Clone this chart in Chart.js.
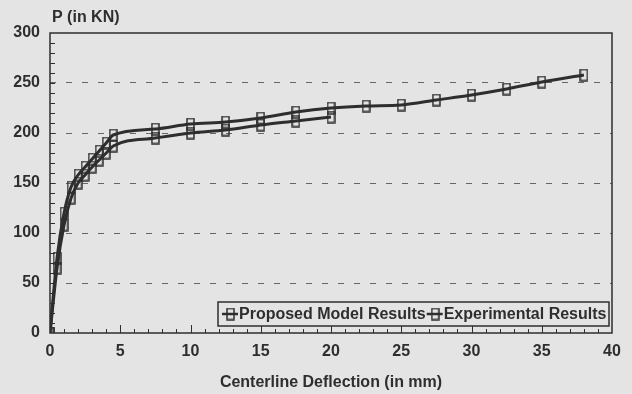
<!DOCTYPE html>
<html>
<head>
<meta charset="utf-8">
<script src="https://cdn.jsdelivr.net/npm/chart.js@4"></script>
<style>
  html, body { margin: 0; padding: 0; background: #e4e4e4; }
  #wrap { width: 632px; height: 394px; }
</style>
</head>
<body>
<div id="wrap"><canvas id="loadChart" width="632" height="394"></canvas></div>
<script>
// * data
const seriesLabels = ["Proposed Model Results", "Experimental Results"];

const deflectionModel = [0, 0.5, 1, 1.5, 2, 2.5, 3, 3.5, 4, 4.5, 7.5, 10, 12.5, 15, 17.5, 20, 22.5, 25, 27.5, 30, 32.5, 35, 38];
const loadModel = [0, 75, 120, 146, 158, 166, 174, 182, 190, 198, 204, 209, 211, 215, 221, 225, 227, 228, 233, 238, 244, 251, 258];

const deflectionExp = [0, 0.5, 1, 1.5, 2, 2.5, 3, 3.5, 4, 4.5, 7.5, 10, 12.5, 15, 17.5, 20];
const loadExp = [0, 65, 108, 135, 150, 158, 166, 173, 180, 187, 195, 200, 203, 208, 212, 216];

const xTicks = [0, 5, 10, 15, 20, 25, 30, 35, 40];
const yTicks = [0, 50, 100, 150, 200, 250, 300];

const xTitle = "Centerline Deflection (in mm)";
const yTitle = "P (in KN)";

const ink = "#2e2e2e";
const fontFamily = '"Liberation Sans", Arial, sans-serif';

// tall hollow box marker like the excel one
function makeMarker() {
  const c = document.createElement("canvas");
  c.width = 9;
  c.height = 13;
  const g = c.getContext("2d");
  g.strokeStyle = ink;
  g.lineWidth = 1.5;
  g.strokeRect(1, 1, 7, 11);
  return c;
}
const marker = makeMarker();

const toPoints = (xs, ys) => xs.map((x, i) => ({ x: x, y: ys[i] }));

// * frame, minor ticks, y title, legend box
const decorations = {
  id: "decorations",
  beforeDatasetsDraw(chart) {
    const { ctx, chartArea: a, scales } = chart;
    ctx.save();
    ctx.strokeStyle = ink;
    ctx.lineWidth = 1.5;
    ctx.strokeRect(a.left, a.top, a.right - a.left, a.bottom - a.top);

    ctx.lineWidth = 1;
    ctx.beginPath();
    for (let v = 10; v < 300; v += 10) {
      const py = Math.round(scales.y.getPixelForValue(v)) + 0.5;
      ctx.moveTo(a.left, py);
      ctx.lineTo(a.left + 5, py);
    }
    for (let v = 1; v < 40; v++) {
      const px = Math.round(scales.x.getPixelForValue(v)) + 0.5;
      const len = v % 5 === 0 ? 8 : 4;
      ctx.moveTo(px, a.bottom);
      ctx.lineTo(px, a.bottom - len);
    }
    ctx.stroke();

    ctx.fillStyle = ink;
    ctx.font = "bold 16px " + fontFamily;
    ctx.textBaseline = "middle";
    ctx.textAlign = "left";
    ctx.fillText(yTitle, 52, 18);
    ctx.restore();
  },
  afterDraw(chart) {
    const { ctx } = chart;
    const box = { x: 218, y: 302, w: 391, h: 24 };
    const cy = box.y + box.h / 2;
    ctx.save();
    ctx.fillStyle = "#e4e4e4";
    ctx.fillRect(box.x, box.y, box.w, box.h);
    ctx.strokeStyle = ink;
    ctx.lineWidth = 1.5;
    ctx.strokeRect(box.x, box.y, box.w, box.h);

    ctx.font = "bold 16px " + fontFamily;
    ctx.textBaseline = "middle";
    ctx.textAlign = "left";
    ctx.fillStyle = ink;
    let x = box.x + 4;
    chart.data.datasets.forEach((ds) => {
      ctx.lineWidth = 2.5;
      ctx.beginPath();
      ctx.moveTo(x, cy);
      ctx.lineTo(x + 16, cy);
      ctx.stroke();
      ctx.drawImage(marker, x + 4, cy - 6.5);
      ctx.fillText(ds.label, x + 17, cy + 1);
      x += 17 + ctx.measureText(ds.label).width + 1;
    });
    ctx.restore();
  },
};

const lineStyle = {
  borderColor: ink,
  backgroundColor: "transparent",
  borderWidth: 3,
  pointStyle: marker,
  pointRadius: 6,
  cubicInterpolationMode: "monotone",
  showLine: true,
};

const data = {
  datasets: [
    { label: seriesLabels[0], data: toPoints(deflectionModel, loadModel), ...lineStyle },
    { label: seriesLabels[1], data: toPoints(deflectionExp, loadExp), ...lineStyle },
  ],
};

const config = {
  type: "scatter",
  data: data,
  options: {
    responsive: false,
    animation: false,
    layout: { padding: { top: 33, right: 20, left: 0, bottom: 0 } },
    plugins: {
      legend: { display: false },
      tooltip: { enabled: false },
    },
    scales: {
      x: {
        type: "linear",
        min: 0,
        max: 40,
        afterFit: (s) => { s.height = 61; },
        afterBuildTicks: (s) => { s.ticks = xTicks.map((v) => ({ value: v })); },
        grid: { display: false, drawTicks: false },
        border: { display: false },
        ticks: { color: ink, padding: 9, font: { family: fontFamily, size: 16, weight: "bold" } },
        title: {
          display: true,
          text: xTitle,
          color: ink,
          padding: { top: 0, bottom: 2 },
          font: { family: fontFamily, size: 16, weight: "bold" },
        },
      },
      y: {
        type: "linear",
        min: 0,
        max: 300,
        afterFit: (s) => { s.width = 50; },
        afterBuildTicks: (s) => { s.ticks = yTicks.map((v) => ({ value: v })); },
        grid: {
          drawTicks: false,
          lineWidth: 1,
          color: (c) => (c.tick && c.tick.value > 0 && c.tick.value < 300 ? "#666" : "transparent"),
        },
        border: { display: false, dash: [6, 10] },
        ticks: { color: ink, padding: 10, font: { family: fontFamily, size: 16, weight: "bold" } },
      },
    },
  },
  plugins: [decorations],
};

const ctx = document.getElementById("loadChart").getContext("2d");
new Chart(ctx, config);
</script>
</body>
</html>
